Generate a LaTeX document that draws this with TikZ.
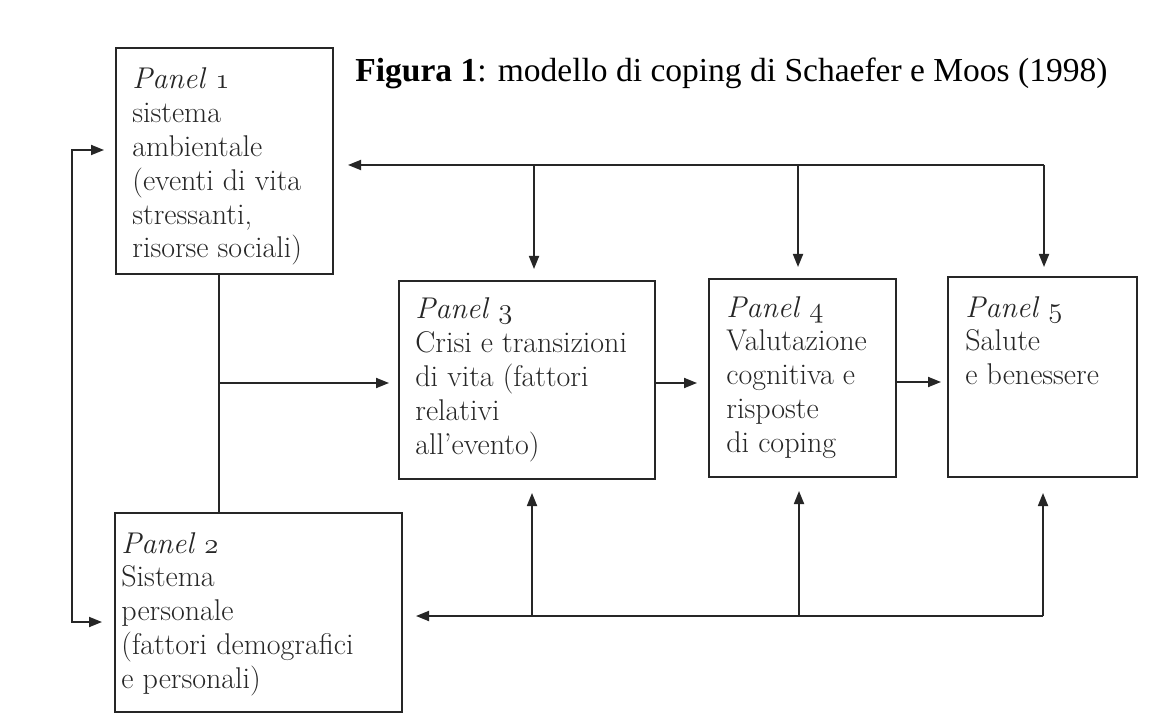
\documentclass[tikz,border=0pt]{standalone}
\usepackage{fontspec}
\newfontfamily\titlefont{Liberation Serif}
\usetikzlibrary{arrows.meta,calc}
\definecolor{ink}{HTML}{262626}
\newcommand\osn[1]{{\usefont{OML}{lmm}{m}{it}#1}}
\newcommand\plines[1]{\vtop{\halign{##\hfil\cr#1\crcr}}}
\begin{document}
\begin{tikzpicture}[x=0.5pt,y=-0.5pt,
  panelbox/.style={draw=ink, line width=1pt, inner sep=0pt, rectangle},
  paneltext/.style={anchor=base west, inner sep=0pt, text=ink, font=\fontsize{15}{16.9}\selectfont},
  conn/.style={draw=ink, line width=0.9pt},
  arr/.style={-{Triangle[length=6.5pt,width=5pt]}},
  arrboth/.style={{Triangle[length=6.5pt,width=5pt]}-{Triangle[length=6.5pt,width=5pt]}}]
\useasboundingbox[fill=white] (0,0) rectangle (1149,716);

% boxes
\node[panelbox, minimum width=108.5pt, minimum height=113pt] (p1) at (224.5,161) {};
\node[panelbox, minimum width=143.5pt, minimum height=99.5pt] (p2) at (258.5,612.5) {};
\node[panelbox, minimum width=128pt, minimum height=99pt] (p3) at (527,380) {};
\node[panelbox, minimum width=93.5pt, minimum height=99pt] (p4) at (802.5,378) {};
\node[panelbox, minimum width=94.5pt, minimum height=100pt] (p5) at (1042.5,377) {};

% texts
\node[paneltext] (t1) at ($(p1.north west)+(17,42)$)
  {\plines{\textit{Panel \osn{1}}\cr sistema\cr ambientale\cr (eventi di vita\cr stressanti,\cr risorse sociali)}};
\node[paneltext] (t2) at ($(p2.north west)+(7,41)$)
  {\plines{\textit{Panel \osn{2}}\cr Sistema\cr personale\cr (fattori demografici\cr e personali)}};
\node[paneltext] (t3) at ($(p3.north west)+(17,39)$)
  {\plines{\textit{Panel \osn{3}}\cr Crisi e transizioni\cr di vita (fattori\cr relativi\cr all’evento)}};
\node[paneltext] (t4) at ($(p4.north west)+(18,39)$)
  {\plines{\textit{Panel \osn{4}}\cr Valutazione\cr cognitiva e\cr risposte\cr di coping}};
\node[paneltext] (t5) at ($(p5.north west)+(18,41)$)
  {\plines{\textit{Panel \osn{5}}\cr Salute\cr e benessere}};

% title
\node[anchor=base west, inner sep=0pt, text=black] (title) at (355,82)
  {\resizebox{376pt}{!}{\titlefont\fontsize{14.5}{17}\selectfont\textbf{Figura 1}: modello di coping di Schaefer e Moos (1998)}};

% junction coordinates
\coordinate (L1) at (72,150);
\coordinate (L2) at (72,622);
\coordinate (S) at (219,383);
\coordinate (T3) at (534,165);
\coordinate (T4) at (798,165);
\coordinate (T5) at (1044,165);
\coordinate (B3) at (532,616);
\coordinate (B4) at (799,616);
\coordinate (B5) at (1043,616);
\coordinate (M1) at (680,383);
\coordinate (M2) at (920,382);

% left loop between panel 1 and panel 2
\draw[conn, arrboth, shorten <=5.5pt, shorten >=6pt] (p1.west |- L1) -- (L1) -- (L2) -- (p2.west |- L2);

% spine from panel 1 to panel 2 with branch to panel 3
\draw[conn] (p1.south -| S) -- (p2.north -| S);
\draw[conn, arr, shorten >=4.5pt] (S) -- (p3.west |- S);

% chain
\draw[conn, arr, shorten >=5.5pt] (p3.east |- M1) -- (p4.west |- M1);
\draw[conn, arr, shorten >=3pt] (p4.east |- M2) -- (p5.west |- M2);

% top feedback
\draw[conn, arr, shorten >=7pt] (T5) -- (p1.east |- T5);
\draw[conn, arr, shorten >=5.5pt] (T3) -- (p3.north -| T3);
\draw[conn, arr, shorten >=5.5pt] (T4) -- (p4.north -| T4);
\draw[conn, arr, shorten >=4.5pt] (T5) -- (p5.north -| T5);

% bottom feedback
\draw[conn, arr, shorten >=6.5pt] (B5) -- (p2.east |- B5);
\draw[conn, arr, shorten >=6.5pt] (B3) -- (p3.south -| B3);
\draw[conn, arr, shorten >=6.5pt] (B4) -- (p4.south -| B4);
\draw[conn, arr, shorten >=7.5pt] (B5) -- (p5.south -| B5);
\end{tikzpicture}
\end{document}
